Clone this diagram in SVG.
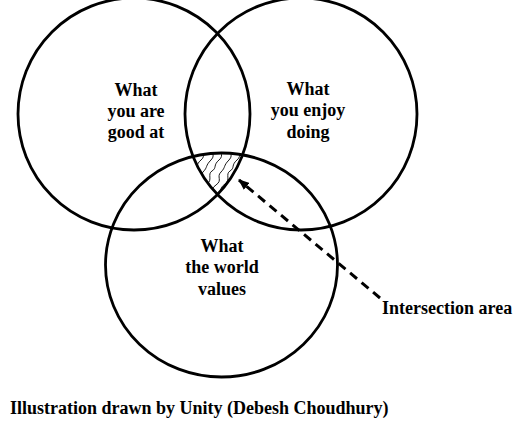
<svg xmlns="http://www.w3.org/2000/svg" width="521" height="424" viewBox="0 0 521 424">
<style>
.c{fill:none;stroke:#000;stroke-width:2.8}
.t{font-family:"Liberation Serif","Times New Roman",serif;font-weight:bold;font-size:18px;fill:#000}
.m{text-anchor:middle}
.h{fill:none;stroke:#000;stroke-width:0.9}
</style>
<defs>
<clipPath id="c1"><circle cx="134" cy="114" r="116"/></clipPath>
<clipPath id="c2"><circle cx="301" cy="114" r="116"/></clipPath>
<clipPath id="c3"><ellipse cx="221.5" cy="265" rx="116" ry="112"/></clipPath>
<marker id="ah" markerWidth="11" markerHeight="9" refX="10" refY="4.5" orient="auto" markerUnits="userSpaceOnUse">
<path d="M0,0 L11,4.5 L0,9 Z" fill="#000"/>
</marker>
</defs>
<rect width="521" height="424" fill="#fff"/>
<g id="hatch" clip-path="url(#c1)"><g clip-path="url(#c2)"><g clip-path="url(#c3)">
<path class="h" d="M204,146 c-4,5 3,9 -3,14 s-2,8 -7,11 s1,9 -5,13 s-3,8 -8,12"/>
<path class="h" d="M213,146 c-5,5 4,8 -2,14 s-3,7 -8,12 s2,8 -5,13 s-2,8 -8,12"/>
<path class="h" d="M222,146 c-4,5 3,9 -3,14 s-2,8 -7,11 s1,9 -5,13 s-3,8 -8,12"/>
<path class="h" d="M231,146 c-5,5 4,8 -2,14 s-3,7 -8,12 s2,8 -5,13 s-2,8 -8,12"/>
<path class="h" d="M240,146 c-4,5 3,9 -3,14 s-2,8 -7,11 s1,9 -5,13 s-3,8 -8,12"/>
<path class="h" d="M249,146 c-5,5 4,8 -2,14 s-3,7 -8,12 s2,8 -5,13 s-2,8 -8,12"/>
<path class="h" d="M258,146 c-4,5 3,9 -3,14 s-2,8 -7,11 s1,9 -5,13 s-3,8 -8,12"/>
</g></g></g>
<g id="circle-good">
<circle class="c" cx="134" cy="114" r="116"/>
<text class="t m" x="136" y="96">What</text>
<text class="t m" x="136" y="117">you are</text>
<text class="t m" x="136" y="138">good at</text>
</g>
<g id="circle-enjoy">
<circle class="c" cx="301" cy="114" r="116"/>
<text class="t m" x="308" y="95">What</text>
<text class="t m" x="308" y="116">you enjoy</text>
<text class="t m" x="308" y="138">doing</text>
</g>
<g id="circle-world">
<ellipse class="c" cx="221.5" cy="265" rx="116" ry="112"/>
<text class="t m" x="222" y="252">What</text>
<text class="t m" x="222" y="273">the world</text>
<text class="t m" x="222" y="295">values</text>
</g>
<g id="connectors">
<line x1="380" y1="298" x2="239" y2="180" stroke="#000" stroke-width="3" stroke-dasharray="9,6" marker-end="url(#ah)"/>
</g>
<g id="label-intersection">
<text class="t" x="382" y="314">Intersection area</text>
</g>
<g id="caption">
<text class="t" x="10" y="414">Illustration drawn by Unity (Debesh Choudhury)</text>
</g>
</svg>
